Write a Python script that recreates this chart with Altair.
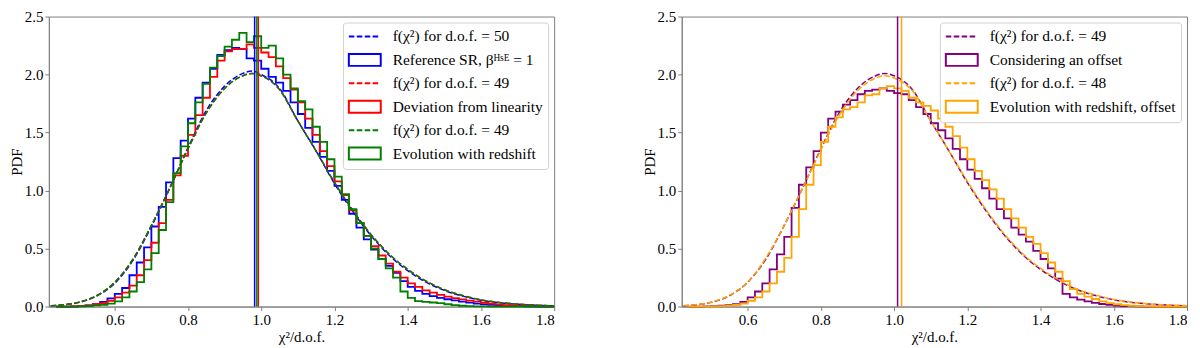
import altair as alt
import pandas as pd

# ---------------- data ----------------
BIN_EDGES = [0.44, 0.46, 0.48, 0.50, 0.52, 0.54, 0.56, 0.58, 0.60, 0.62,
             0.64, 0.66, 0.68, 0.70, 0.72, 0.74, 0.76, 0.78, 0.80, 0.82,
             0.84, 0.86, 0.88, 0.90, 0.92, 0.94, 0.96, 0.98, 1.00, 1.02,
             1.04, 1.06, 1.08, 1.10, 1.12, 1.14, 1.16, 1.18, 1.20, 1.22,
             1.24, 1.26, 1.28, 1.30, 1.32, 1.34, 1.36, 1.38, 1.40, 1.42,
             1.44, 1.46, 1.48, 1.50, 1.52, 1.54, 1.56, 1.58, 1.60, 1.62,
             1.64, 1.66, 1.68, 1.70, 1.72, 1.74, 1.76, 1.78, 1.80]

HIST_REF = [0.0, 0.0, 0.0, 0.005, 0.01, 0.02, 0.04, 0.07, 0.11, 0.16,
            0.27, 0.38, 0.51, 0.69, 0.86, 1.07, 1.28, 1.43, 1.62, 1.80,
            1.93, 2.05, 2.17, 2.21, 2.23, 2.22, 2.14, 2.12, 2.05, 1.98,
            1.93, 1.86, 1.76, 1.66, 1.54, 1.42, 1.29, 1.17, 1.04, 0.92,
            0.80, 0.68, 0.58, 0.49, 0.41, 0.35, 0.29, 0.22, 0.17, 0.135,
            0.11, 0.09, 0.075, 0.063, 0.053, 0.043, 0.034, 0.026, 0.019, 0.014,
            0.01, 0.007, 0.005, 0.003, 0.002, 0.001, 0.0, 0.0]

HIST_DEV = [0.0, 0.0, 0.003, 0.005, 0.01, 0.02, 0.03, 0.05, 0.08, 0.12,
            0.18, 0.27, 0.40, 0.55, 0.72, 0.92, 1.13, 1.30, 1.48, 1.65,
            1.80, 1.98, 2.12, 2.20, 2.22, 2.22, 2.26, 2.23, 2.19, 2.15,
            2.07, 1.97, 1.87, 1.76, 1.62, 1.48, 1.34, 1.21, 1.08, 0.96,
            0.83, 0.72, 0.61, 0.52, 0.44, 0.37, 0.30, 0.25, 0.20, 0.17,
            0.14, 0.12, 0.10, 0.085, 0.072, 0.062, 0.052, 0.042, 0.033, 0.025,
            0.018, 0.013, 0.009, 0.006, 0.004, 0.002, 0.001, 0.0]

HIST_EVO = [0.0, 0.0, 0.0, 0.002, 0.005, 0.01, 0.015, 0.025, 0.045, 0.08,
            0.13, 0.21, 0.32, 0.46, 0.66, 0.90, 1.15, 1.38, 1.58, 1.76,
            1.92, 2.06, 2.16, 2.24, 2.30, 2.36, 2.28, 2.33, 2.23, 2.25,
            2.14, 2.00, 1.88, 1.77, 1.70, 1.55, 1.42, 1.27, 1.12, 0.97,
            0.84, 0.72, 0.61, 0.50, 0.41, 0.33, 0.25, 0.13, 0.075, 0.047,
            0.04, 0.035, 0.03, 0.02, 0.012, 0.007, 0.004, 0.002, 0.001, 0.0,
            0.0, 0.0, 0.0, 0.0, 0.0, 0.0, 0.0, 0.0]

HIST_OFF = [0.0, 0.0, 0.002, 0.004, 0.007, 0.012, 0.02, 0.04, 0.08, 0.13,
            0.20, 0.32, 0.45, 0.60, 0.85, 1.05, 1.20, 1.34, 1.50, 1.62,
            1.68, 1.74, 1.78, 1.83, 1.86, 1.87, 1.88, 1.86, 1.84, 1.83,
            1.78, 1.72, 1.66, 1.58, 1.52, 1.45, 1.36, 1.27, 1.18, 1.10,
            1.02, 0.93, 0.84, 0.76, 0.68, 0.62, 0.56, 0.48, 0.41, 0.33,
            0.24, 0.11, 0.08, 0.06, 0.045, 0.032, 0.022, 0.014, 0.008, 0.005,
            0.003, 0.001, 0.0, 0.0, 0.0, 0.0, 0.0, 0.0]

HIST_EVO_OFF = [0.0, 0.0, 0.0, 0.002, 0.004, 0.008, 0.014, 0.025, 0.05, 0.08,
                0.13, 0.20, 0.30, 0.42, 0.60, 0.84, 1.05, 1.22, 1.42, 1.55,
                1.63, 1.70, 1.72, 1.76, 1.82, 1.83, 1.88, 1.90, 1.88, 1.86,
                1.80, 1.76, 1.73, 1.69, 1.62, 1.55, 1.47, 1.37, 1.27, 1.17,
                1.09, 1.01, 0.93, 0.84, 0.76, 0.68, 0.60, 0.54, 0.46, 0.38,
                0.30, 0.22, 0.15, 0.11, 0.085, 0.065, 0.045, 0.03, 0.02, 0.012,
                0.007, 0.004, 0.002, 0.0, 0.0, 0.0, 0.0, 0.0]

FIT_X = [0.425, 0.45, 0.50, 0.55, 0.60, 0.65, 0.70, 0.75, 0.80, 0.85,
         0.90, 0.95, 0.975, 1.00, 1.05, 1.10, 1.15, 1.20, 1.25, 1.30,
         1.35, 1.40, 1.45, 1.50, 1.55, 1.60, 1.65, 1.70, 1.75, 1.80]
FIT_DOF50 = [0.006, 0.012, 0.034, 0.09, 0.20, 0.40, 0.69, 1.02, 1.37, 1.69,
             1.90, 2.01, 2.03, 2.00, 1.88, 1.60, 1.34, 1.06, 0.82, 0.61,
             0.44, 0.31, 0.21, 0.14, 0.09, 0.055, 0.033, 0.019, 0.011, 0.006]
FIT_DOF49 = [0.007, 0.013, 0.036, 0.093, 0.21, 0.41, 0.70, 1.02, 1.36, 1.67,
             1.88, 1.99, 2.01, 1.99, 1.87, 1.60, 1.34, 1.07, 0.83, 0.62,
             0.45, 0.32, 0.22, 0.145, 0.095, 0.058, 0.035, 0.021, 0.012, 0.007]
FIT_DOF48 = [0.008, 0.014, 0.038, 0.096, 0.21, 0.42, 0.70, 1.02, 1.35, 1.65,
             1.86, 1.97, 1.99, 1.97, 1.86, 1.60, 1.34, 1.08, 0.84, 0.63,
             0.46, 0.33, 0.23, 0.15, 0.10, 0.062, 0.038, 0.023, 0.013, 0.008]

MEANS_LEFT = [0.982, 0.992, 0.988]      # reference, deviation, evolution
MEANS_RIGHT = [1.0095, 1.0204]          # offset, evolution+offset

LABELS_LEFT = ["f(χ²) for d.o.f. = 50", "Reference SR, βᴴˢᴱ = 1",
               "f(χ²) for d.o.f. = 49", "Deviation from linearity",
               "f(χ²) for d.o.f. = 49 ", "Evolution with redshift"]
LABELS_RIGHT = ["f(χ²) for d.o.f. = 49", "Considering an offset",
                "f(χ²) for d.o.f. = 48", "Evolution with redshift, offset"]
COLORS_LEFT = ["blue", "red", "green"]
COLORS_RIGHT = ["purple", "orange"]

X_TICKS = [0.6, 0.8, 1.0, 1.2, 1.4, 1.6, 1.8]
Y_TICKS = [0.0, 0.5, 1.0, 1.5, 2.0, 2.5]

# ---------------- styling ----------------
FONT = "Liberation Serif"
W, H = 507, 291
DASH_PATH = "M-1,0H-0.31M-0.01,0H0.69M0.99,0H1.68M1.98,0H2.68"
RECT_PATH = "M-1,-0.75H3V0.75H-1Z"

xscale = alt.Scale(domain=[0.42, 1.8], nice=False, zero=False)
yscale = alt.Scale(domain=[0, 2.5], nice=False)
xaxis = alt.Axis(values=X_TICKS, format=".1f", title="χ²/d.o.f.", grid=False,
                 tickSize=4, labelPadding=2, titlePadding=2)
yaxis = alt.Axis(values=Y_TICKS, format=".1f", title="PDF", grid=False,
                 tickSize=4, labelPadding=2, titlePadding=0)


def hist_frame(values):
    xs = [BIN_EDGES[0]] + BIN_EDGES[:-1] + [BIN_EDGES[-1], BIN_EDGES[-1]]
    ys = [0.0] + list(values) + [values[-1], 0.0]
    return pd.DataFrame({"x": xs, "y": ys, "i": list(range(len(xs)))})


def fit_frame(values):
    return pd.DataFrame({"x": FIT_X, "y": values, "i": list(range(len(FIT_X)))})


def panel(fits, hists, means, colors, labels):
    layers = []
    for fit, hist, col in zip(fits, hists, colors):
        layers.append(
            alt.Chart(fit_frame(fit)).mark_line(
                color=col, strokeWidth=1.5, strokeDash=[5.5, 2.4], interpolate="monotone"
            ).encode(x=alt.X("x:Q", scale=xscale, axis=xaxis),
                     y=alt.Y("y:Q", scale=yscale, axis=yaxis),
                     order="i:Q")
        )
        layers.append(
            alt.Chart(hist_frame(hist)).mark_line(
                color=col, strokeWidth=1.8, interpolate="step-after"
            ).encode(x=alt.X("x:Q", scale=xscale, axis=xaxis),
                     y=alt.Y("y:Q", scale=yscale, axis=yaxis),
                     order="i:Q")
        )
    mean_df = pd.DataFrame({"x": means, "col": colors})
    layers.append(
        alt.Chart(mean_df).mark_rule(strokeWidth=1.5).encode(
            x=alt.X("x:Q", scale=xscale, axis=xaxis),
            color=alt.Color("col:N", scale=None))
    )
    shapes = [DASH_PATH, RECT_PATH] * len(colors)
    legend_colors = [c for c in colors for _ in range(2)]
    legend = alt.Legend(
        title=None, orient="top-right", offset=6, padding=5,
        fillColor="white", strokeColor="#d0d0d0", cornerRadius=3,
        labelFont=FONT, labelFontSize=15.5, labelColor="black",
        labelOffset=27, rowPadding=4.5, symbolSize=256,
        symbolStrokeWidth=2, symbolOpacity=1, symbolFillColor="transparent",
        labelLimit=400,
    )
    layers.append(
        alt.Chart(pd.DataFrame({"key": labels})).mark_point(
            opacity=0, filled=False, size=256, strokeWidth=2
        ).encode(
            color=alt.Color("key:N", scale=alt.Scale(domain=labels, range=legend_colors),
                            legend=legend),
            shape=alt.Shape("key:N", scale=alt.Scale(domain=labels, range=shapes),
                            legend=legend),
        )
    )
    return alt.layer(*layers).properties(width=W, height=H)


left = panel([FIT_DOF50, FIT_DOF49, FIT_DOF49], [HIST_REF, HIST_DEV, HIST_EVO],
             MEANS_LEFT, COLORS_LEFT, LABELS_LEFT)
right = panel([FIT_DOF49, FIT_DOF48], [HIST_OFF, HIST_EVO_OFF],
              MEANS_RIGHT, COLORS_RIGHT, LABELS_RIGHT)

chart = alt.hconcat(left, right, spacing=82).resolve_scale(
    color="independent", shape="independent"
).properties(
    padding={"left": 0, "top": 0, "right": 0, "bottom": 0}
).configure_view(
    stroke="#808080", strokeWidth=1
).configure_axis(
    labelFont=FONT, titleFont=FONT, labelFontSize=15, titleFontSize=15,
    titleFontWeight="normal", labelColor="black", titleColor="black",
    tickColor="#808080", domainColor="#808080", domainWidth=1, tickWidth=1,
)

chart.save("out.html", embed_options={"renderer": "svg", "actions": False})
